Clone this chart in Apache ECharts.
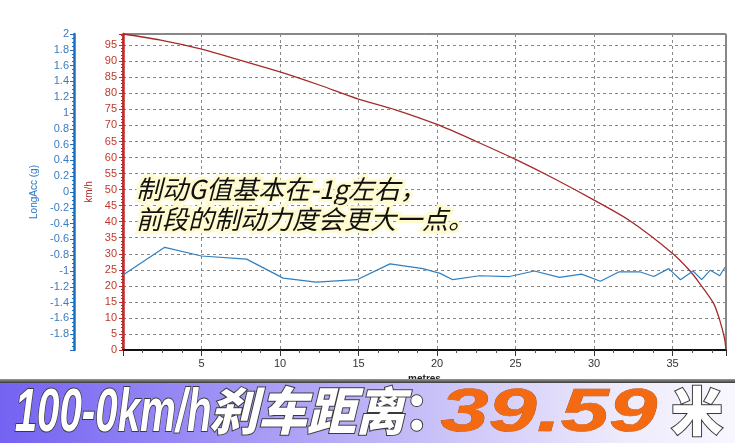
<!DOCTYPE html>
<html>
<head>
<meta charset="utf-8">
<script src="https://cdn.jsdelivr.net/npm/echarts@6/dist/echarts.min.js"></script>
<style>
html,body{margin:0;padding:0;background:#fff;}
#c{width:735px;height:443px;}
</style>
</head>
<body>
<div id="c"></div>
<script>
// ---- data ----
var speedDist = [0, 2.4, 5, 7.5, 10, 12.5, 15, 17.4, 20, 22.5, 25, 27.5, 30, 32.3, 35, 36.1, 36.7, 37.6, 38.0, 38.3, 38.4];
var speedKmh  = [98.5, 96.6, 93.8, 90.3, 86.7, 82.6, 78.2, 74.8, 70.3, 65.0, 59.4, 53.3, 46.7, 40.2, 30.1, 24.7, 20.9, 14.6, 9.3, 3.7, 0];

var accDist = [0, 2.66, 5.0, 7.87, 10.2, 12.3, 14.9, 17.0, 19.1, 20.2, 21.0, 22.7, 24.6, 26.2, 27.8, 29.2, 30.4, 31.6, 32.9, 33.8, 34.75, 35.5, 36.3, 36.85, 37.4, 38.0, 38.35];
var accG    = [-1.05, -0.70, -0.81, -0.85, -1.09, -1.14, -1.11, -0.91, -0.97, -1.03, -1.11, -1.06, -1.07, -1.00, -1.08, -1.04, -1.13, -1.01, -1.01, -1.07, -0.97, -1.11, -1.00, -1.11, -0.99, -1.06, -0.95];

var xAxisName = 'metres';
var speedAxisName = 'km/h';
var accAxisName = 'LongAcc (g)';
var noteLines = ['制动G值基本在-1g左右，', '前段的制动力度会更大一点。'];
var bannerParts = ['100-0km/h', '刹车距离', '：', '39.59', '米'];

function zip(a, b) { return a.map(function (v, i) { return [v, b[i]]; }); }

var chart = echarts.init(document.getElementById('c'), null, {renderer: 'canvas'});
var lab = 'Liberation Sans, Arial, sans-serif';
var whiteText = {fill: '#fff', stroke: '#3a3a3a', lineWidth: 2, shadowColor: 'rgba(0,0,0,0.7)', shadowOffsetX: 3, shadowOffsetY: 3, shadowBlur: 2};
function bannerStyle(extra) { return Object.assign({}, whiteText, extra); }
var option = {
  backgroundColor: '#ffffff',
  animation: false,
  grid: {left: 123, right: 9, top: 34, bottom: 93, show: true, backgroundColor: '#fff', borderColor: '#111', borderWidth: 1},
  xAxis: {
    type: 'value', min: 0, max: 38.4, interval: 5,
    name: xAxisName, nameLocation: 'middle', nameGap: 22,
    nameTextStyle: {fontFamily: lab, fontSize: 10, fontWeight: 'bold', color: '#222'},
    axisLine: {lineStyle: {color: '#111', width: 2}},
    axisTick: {show: true, length: 6, lineStyle: {color: '#333'}},
    minorTick: {show: true, splitNumber: 4, length: 3, lineStyle: {color: '#555'}},
    axisLabel: {showMinLabel: false, showMaxLabel: false, fontFamily: lab, fontSize: 11, color: '#333', margin: 8},
    splitLine: {show: true, lineStyle: {color: '#888', type: [3, 3], width: 1}}
  },
  yAxis: [
    {
      type: 'value', min: 0, max: 98.5, interval: 5, position: 'left',
      name: speedAxisName, nameLocation: 'middle', nameGap: 19, nameRotate: 90,
      nameTextStyle: {fontFamily: lab, fontSize: 10, color: '#b02a2a'},
      axisLine: {show: true, lineStyle: {color: '#c62828', width: 2.5}},
      axisTick: {show: true, length: 4, lineStyle: {color: '#c62828'}},
      minorTick: {show: true, splitNumber: 5, length: 2, lineStyle: {color: '#c62828'}},
      axisLabel: {showMaxLabel: false, fontFamily: lab, fontSize: 11, color: '#c0392b', margin: 6},
      splitLine: {show: true, lineStyle: {color: '#888', type: [3, 3], width: 1}}
    },
    {
      type: 'value', min: -2, max: 2, interval: 0.2, position: 'left', offset: 49,
      name: accAxisName, nameLocation: 'middle', nameGap: 26, nameRotate: 90,
      nameTextStyle: {fontFamily: lab, fontSize: 10, color: '#2f78c0'},
      axisLine: {show: true, lineStyle: {color: '#1f6fc0', width: 2.5}},
      axisTick: {show: true, length: 4, lineStyle: {color: '#1f6fc0'}},
      minorTick: {show: true, splitNumber: 4, length: 2, lineStyle: {color: '#1f6fc0'}},
      axisLabel: {showMinLabel: false, fontFamily: lab, fontSize: 11, color: '#3a7cc0', margin: 5},
      splitLine: {show: false}
    }
  ],
  series: [
    {
      type: 'line', yAxisIndex: 0, data: zip(speedDist, speedKmh), smooth: 0.3,
      showSymbol: false, lineStyle: {color: '#a52a2a', width: 1.3}, z: 3
    },
    {
      type: 'line', yAxisIndex: 1, data: zip(accDist, accG), smooth: false,
      showSymbol: false, lineStyle: {color: '#2f7fbf', width: 1.2}, z: 4
    }
  ],
  graphic: [
    {
      type: 'text', left: 133, top: 173, z: 50,
      style: {
        text: noteLines.join('\n'), fontFamily: 'Noto Sans CJK SC', fontSize: 26, fontStyle: 'italic',
        lineHeight: 30, fill: '#111', stroke: '#fffbcf', lineWidth: 6
      }
    },
    {
      type: 'rect', left: 0, top: 379, z: 60,
      shape: {width: 735, height: 4},
      style: {fill: new echarts.graphic.LinearGradient(0, 0, 0, 1, [{offset: 0, color: '#9a9a9a'}, {offset: 1, color: '#3a3a3a'}])}
    },
    {
      type: 'rect', left: 0, top: 383, z: 60,
      shape: {width: 735, height: 60},
      style: {fill: new echarts.graphic.LinearGradient(0, 0, 1, 0, [{offset: 0, color: '#7462f2'}, {offset: 0.45, color: '#b4aaf6'}, {offset: 0.85, color: '#eeebfc'}, {offset: 1, color: '#f8f7fe'}])}
    },
    {
      type: 'text', left: 14, top: 383, z: 72, scaleX: 0.66,
      style: bannerStyle({text: bannerParts[0], fontFamily: 'Liberation Sans', fontWeight: 'bold', fontStyle: 'italic', fontSize: 61})
    },
    {
      type: 'text', left: 208, top: 384, z: 70, scaleX: 0.96,
      style: bannerStyle({text: bannerParts[1], fontFamily: 'Noto Sans CJK SC', fontWeight: 900, fontStyle: 'italic', fontSize: 51})
    },
    {
      type: 'text', left: 403, top: 384, z: 70,
      style: bannerStyle({text: bannerParts[2], fontFamily: 'Noto Sans CJK SC', fontWeight: 900, fontSize: 51})
    },
    {
      type: 'text', left: 440, top: 383, z: 70, scaleX: 1.42,
      style: {text: bannerParts[3], fontFamily: 'Liberation Sans', fontWeight: 'bold', fontStyle: 'italic', fontSize: 61,
        fill: '#f36a12', stroke: '#b04a00', lineWidth: 0.6, shadowColor: 'rgba(0,0,0,0.45)', shadowOffsetX: 2, shadowOffsetY: 2, shadowBlur: 2}
    },
    {
      type: 'text', left: 670, top: 384, z: 70,
      style: bannerStyle({text: bannerParts[4], fontFamily: 'Noto Sans CJK SC', fontWeight: 900, fontSize: 52})
    }
  ]
};
chart.setOption(option);
</script>
</body>
</html>
